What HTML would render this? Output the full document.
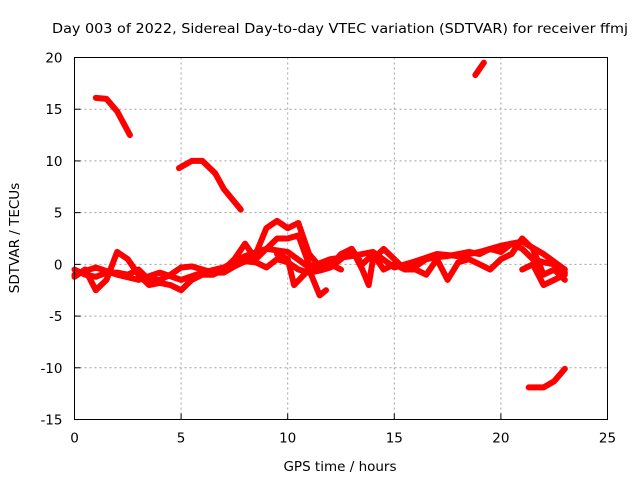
<!DOCTYPE html>
<html><head><meta charset="utf-8"><style>
body{margin:0;background:#fff;}
svg text{font-family:"DejaVu Sans","Liberation Sans",sans-serif;font-size:13.5px;fill:#000;}
</style></head><body>
<svg id="c" width="640" height="480" xmlns="http://www.w3.org/2000/svg"></svg>
<script>
const xTicks=[0,5,10,15,20,25];
const yTicks=[-15,-10,-5,0,5,10,15,20];
const seg1=[[1.0,16.1],[1.5,16.0],[2.0,14.8],[2.6,12.5]];
const seg2=[[4.9,9.3],[5.5,10.0],[6.0,10.0],[6.6,8.8],[7.0,7.3],[7.8,5.3]];
const seg3=[[18.8,18.3],[19.2,19.5]];
const seg4=[[21.3,-11.9],[22.0,-11.9],[22.5,-11.3],[23.0,-10.1]];
const segA=[[0,-0.5],[0.5,-1.0],[1.0,-1.2],[1.5,-0.8],[2.0,-0.8],[2.5,-1.0],[3.0,-0.5],[3.5,-1.5],[4.0,-1.5],[4.5,-1.0],[5.0,-0.3],[5.5,-0.2],[6.0,-0.5],[6.5,-0.8],[7.0,-0.8],[7.5,-0.2],[8.0,0.3],[8.5,0.2],[9.0,-0.3],[9.5,0.5],[10.0,0.2],[10.5,-0.5],[11.0,-0.8],[11.5,-0.6],[12.0,-0.3],[12.5,0.5],[13.0,1.5],[13.5,0.0],[14.0,1.0],[14.5,-0.5],[15.0,0.0],[15.5,-0.5],[16.0,-0.2],[16.5,0.5],[17.0,0.7],[17.5,0.8],[18.0,1.0],[18.5,1.2],[19.0,1.0],[19.5,1.5],[20.0,1.2],[20.5,2.0],[21.0,1.5],[21.5,0.5],[22.0,0.2],[22.5,0.0],[23.0,-0.8]];
const segB=[[0,-1.2],[0.5,-0.5],[1.0,-2.5],[1.5,-1.5],[2.0,1.2],[2.5,0.5],[3.0,-1.0],[3.5,-2.0],[4.0,-1.8],[4.5,-2.0],[5.0,-2.5],[5.5,-1.5],[6.0,-1.0],[6.5,-1.0],[7.0,-0.5],[7.5,0.5],[8.0,2.0],[8.5,0.5],[9.0,1.5],[9.5,2.5],[10.0,2.5],[10.5,2.8],[11.0,0.0],[11.5,-0.5],[12.0,-0.2],[12.5,1.0],[13.0,1.5],[13.5,-0.5],[13.8,-2.0],[14.0,0.5],[14.5,1.5],[15.0,0.5],[15.5,-0.5],[16.0,-0.5],[16.5,-1.0],[17.0,0.5],[17.5,-1.5],[18.0,0.2],[18.5,0.5],[19.0,0.0],[19.5,-0.5],[20.0,0.5],[20.5,1.0],[21.0,2.5],[21.5,1.5],[22.0,-1.0],[22.5,-0.5],[23.0,-1.5]];
const segC=[[7.5,0],[8.5,1.0],[9.0,3.5],[9.5,4.2],[10.0,3.5],[10.5,4.0],[11.0,1.0],[11.5,-0.2],[12.0,0],[12.5,-0.5]];
const segD=[[9.5,1.0],[10.0,0.5],[10.3,-2.0],[11.0,-0.5],[11.5,-3.0],[11.8,-2.5]];
const segE=[[21.0,-0.5],[21.5,0.0],[22.0,-2.0],[22.5,-1.5],[23.0,-1.0]];
const segF=[[0,-1.0],[1.0,-0.3],[2.0,-1.0],[3.0,-1.5],[4.0,-0.8],[5.0,-1.5],[6.0,-0.8],[7.0,-0.3],[8.0,0.8],[9.0,1.5],[10.0,1.2],[11.0,-0.3],[12.0,0.5],[13.0,0.8],[14.0,1.2],[15.0,-0.3],[16.0,0.3],[17.0,1.0],[18.0,0.8],[19.0,1.2],[20.0,1.8],[21.0,2.2],[22.0,1.0],[23.0,-0.5]];
const series=[seg1,seg2,seg3,seg4,segA,segB,segC,segD,segE,segF];

const L=74.5,R=607.5,T=57.5,B=419.5;
const sx=v=>L+(v-0)/(25-0)*(R-L);
const sy=v=>B-(v+15)/(35)*(B-T);
const svg=document.getElementById('c');
const NS='http://www.w3.org/2000/svg';
function mk(t,a){const e=document.createElementNS(NS,t);for(const k in a)e.setAttribute(k,a[k]);svg.appendChild(e);return e;}
xTicks.forEach(v=>{
  if(v>0&&v<25){const g=mk('line',{x1:sx(v),x2:sx(v),y1:T,y2:B,stroke:'#a0a0a0','stroke-dasharray':'2,3'});
  
  }
  const tk=mk('line',{x1:sx(v),x2:sx(v),y1:B,y2:B-6,stroke:'#000'});
  
  
  const t=mk('text',{x:sx(v),y:B+23,'text-anchor':'middle'});t.textContent=v;
  
  
});
yTicks.forEach(v=>{
  if(v>-15&&v<20){const g=mk('line',{x1:L,x2:R,y1:sy(v),y2:sy(v),stroke:'#a0a0a0','stroke-dasharray':'2,3'});
  
  }
  const tk=mk('line',{x1:L,x2:L+6,y1:sy(v),y2:sy(v),stroke:'#000'});
  
  
  const t=mk('text',{x:L-12,y:sy(v)+5,'text-anchor':'end'});t.textContent=v;
  
  
});
series.forEach(s=>{
  const p=mk('polyline',{points:s.map(d=>sx(d[0])+','+sy(d[1])).join(' '),fill:'none',stroke:'#ff0000','stroke-width':6,'stroke-linejoin':'round','stroke-linecap':'round'});
  
  
});
const f=mk('rect',{x:L,y:T,width:R-L,height:B-T,fill:'none',stroke:'#000','stroke-width':1});


const tt=mk('text',{x:340,y:33,'text-anchor':'middle',textLength:576,lengthAdjust:'spacingAndGlyphs'});tt.textContent='Day 003 of 2022, Sidereal Day-to-day VTEC variation (SDTVAR) for receiver ffmj';


const xt=mk('text',{x:340,y:471,'text-anchor':'middle'});xt.textContent='GPS time / hours';


const yt=mk('text',{x:19,y:238,'text-anchor':'middle',transform:'rotate(-90 19 238)'});yt.textContent='SDTVAR / TECUs';


</script>
</body></html>
